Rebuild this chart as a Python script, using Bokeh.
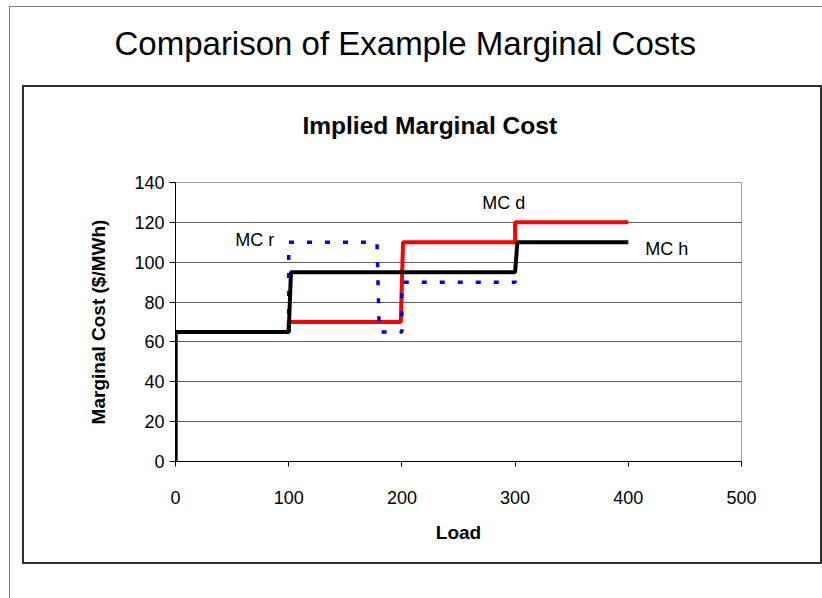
from bokeh.plotting import figure
from bokeh.models import Range1d, SingleIntervalTicker, Label, Title
from bokeh.embed import file_html
from bokeh.resources import INLINE

# ---- data ----
mc_d_load = [0, 0, 100, 100, 199, 201, 300, 300, 400]
mc_d_cost = [0, 65, 65, 70, 70, 110, 110, 120, 120]

mc_r_load = [100, 100, 178, 180, 200, 200, 300, 300]
mc_r_cost = [65, 110, 110, 65, 65, 90, 90, 95]

mc_h_load = [0, 0, 100, 102, 300, 302, 400]
mc_h_cost = [0, 65, 65, 95, 95, 110, 110]

series_names = ["MC r", "MC d", "MC h"]
name_load = [70, 290, 434]
name_cost = [111, 129.5, 106.5]

slide_title = "Comparison of Example Marginal Costs"
chart_title = "Implied Marginal Cost"
x_label = "Load"
y_label = "Marginal Cost ($/MWh)"

FONT = "Liberation Sans"

# slide frame (grey, top/left) and chart box (dark) drawn as CSS background lines
grey = "linear-gradient(#808080,#808080)"
dark = "linear-gradient(#303030,#303030)"
page_styles = {
    "background-color": "white",
    "background-image": ", ".join([grey, grey, dark, dark, dark, dark]),
    "background-position": "9px 6px, 9px 6px, 22px 85px, 22px 562px, 22px 85px, 820px 85px",
    "background-size": "1px 600px, 820px 1px, 800px 2px, 800px 2px, 2px 479px, 2px 479px",
    "background-repeat": "no-repeat",
}

p = figure(width=822, height=598, output_backend="svg", toolbar_location=None,
           x_range=Range1d(0, 500), y_range=Range1d(0, 140), title=None,
           min_border_left=175, min_border_right=81,
           min_border_top=182, min_border_bottom=137,
           styles=page_styles)
p.background_fill_color = "white"
p.border_fill_color = None
p.outline_line_color = "#a0a0a0"
p.outline_line_width = 1

# grid
p.xgrid.visible = False
p.ygrid.grid_line_color = "#606060"
p.ygrid.grid_line_width = 1
p.ygrid.ticker = SingleIntervalTicker(interval=20)

# axes
p.xaxis.ticker = SingleIntervalTicker(interval=100)
p.yaxis.ticker = SingleIntervalTicker(interval=20)
for ax in (p.xaxis[0], p.yaxis[0]):
    ax.axis_line_color = "black"
    ax.axis_line_width = 1
    ax.major_tick_line_color = "black"
    ax.major_tick_in = 0
    ax.minor_tick_line_color = None
    ax.major_label_text_font = FONT
    ax.major_label_text_font_size = "18px"
    ax.major_label_text_color = "black"
    ax.axis_label_text_font = FONT
    ax.axis_label_text_font_size = "19px"
    ax.axis_label_text_font_style = "bold"
    ax.axis_label_text_color = "black"
p.xaxis.axis_label = x_label
p.yaxis.axis_label = y_label
p.xaxis.major_tick_out = 5
p.yaxis.major_tick_out = 6
p.xaxis.major_label_standoff = 24
p.yaxis.major_label_standoff = 5
p.xaxis.axis_label_standoff = 15
p.yaxis.axis_label_standoff = 22

# series
p.line(mc_d_load, mc_d_cost, line_color="#ff0000", line_width=4)
p.line(mc_r_load, mc_r_cost, line_color="#0000ff", line_width=3.5, line_dash="5 13")
p.line(mc_h_load, mc_h_cost, line_color="black", line_width=4)

for name, lx, ly in zip(series_names, name_load, name_cost):
    p.add_layout(Label(x=lx, y=ly, text=name, text_align="center", text_baseline="middle",
                       text_font=FONT, text_font_size="18px", text_color="black"))

# titles
p.add_layout(Title(text=chart_title, align="left", offset=127, standoff=88,
                   text_font=FONT, text_font_size="24.5px", text_font_style="bold",
                   text_color="black"), "above")
p.add_layout(Title(text=slide_title, align="left", offset=-61, standoff=8,
                   text_font=FONT, text_font_size="33px", text_font_style="normal",
                   text_color="black"), "above")

open("out.html", "w").write(file_html(p, INLINE))
